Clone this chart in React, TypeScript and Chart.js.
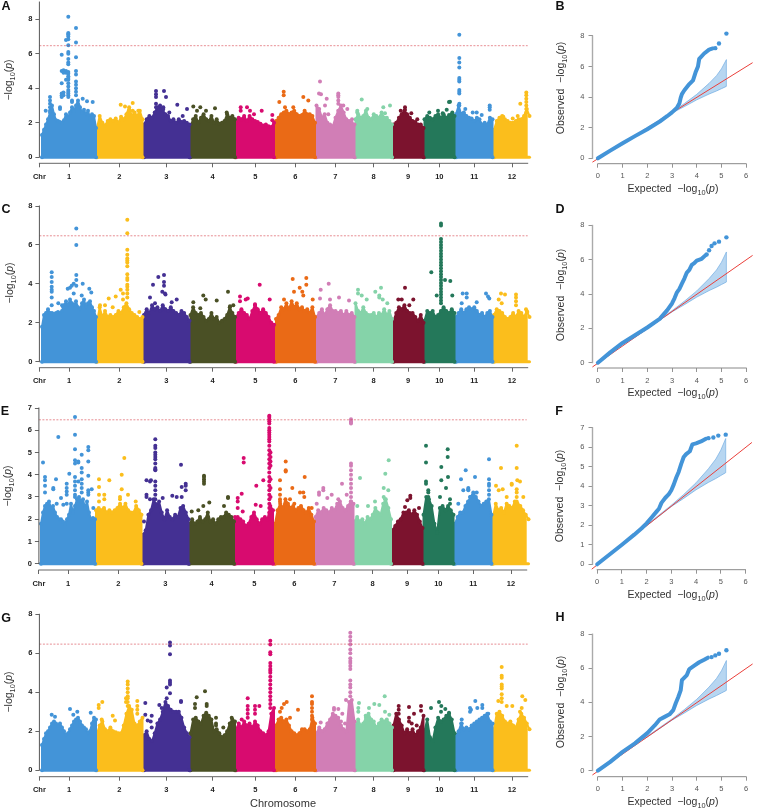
import React, { useEffect, useRef } from "react";
import { Chart, registerables } from "chart.js";

Chart.register(...registerables);

const FONT = '"Liberation Sans", Arial, sans-serif';
const chromLabels = ["1", "2", "3", "4", "5", "6", "7", "8", "9", "10", "11", "12"];
const chromColors = ["#4394d8", "#fbbe1c", "#443093", "#4a5025", "#d80b6f", "#ea6a16", "#d17eb6", "#85d3a9", "#7c132e", "#24785a", "#4394d8", "#fbbe1c"];
// genome position of each chromosome (start, end, axis tick)
const chromStart = [0, 55, 102, 148.5, 194, 234, 274.5, 313.5, 351.5, 382.5, 414, 452];
const chromEnd = [54, 100.5, 147.5, 193, 232, 273, 312.5, 350, 381.5, 412.5, 450.5, 487.5];
const chromTick = [27, 77.3, 124.3, 170.7, 213.3, 253.3, 293.3, 331.7, 366, 397.3, 432.3, 470];
const significance = 6.47;

// upper edge of the dense cloud of each chromosome, evenly spaced along it
const topsA = [
  [1.3, 1.6, 1.9, 2.2, 2.6, 3.0, 2.5, 2.15, 2.1, 2.05, 2.0, 2.15, 2.5, 2.3, 2.6, 2.9, 2.7, 3.0, 3.3, 2.9, 2.6, 2.75, 2.5, 2.7, 2.3, 2.5, 2.4, 1.7],
  [1.7, 2.4, 2.0, 1.85, 2.1, 2.2, 2.1, 2.25, 2.0, 2.35, 2.2, 2.5, 2.9, 2.4, 2.6, 2.4, 2.7, 2.2],
  [1.9, 2.2, 2.4, 2.3, 2.6, 2.9, 3.0, 2.7, 2.5, 2.4, 2.1, 2.2, 2.0, 2.2, 2.05, 2.1, 2.0, 1.9],
  [1.8, 2.2, 2.4, 2.0, 2.3, 2.5, 2.2, 2.1, 2.4, 2.0, 2.2, 1.95, 2.0, 2.1, 2.5, 2.3, 2.4, 2.2],
  [2.0, 2.3, 2.2, 2.4, 2.1, 2.4, 2.2, 2.1, 2.05, 1.95, 1.85, 1.9, 1.8, 1.75, 2.0],
  [2.1, 2.3, 2.5, 2.6, 2.7, 2.5, 2.6, 2.7, 2.5, 2.4, 2.45, 2.7, 2.5, 2.5, 2.4, 2.0],
  [3.0, 2.8, 2.3, 2.5, 2.0, 1.9, 1.8, 2.3, 2.7, 3.0, 2.6, 2.2, 2.1, 2.0, 1.9],
  [2.2, 2.5, 2.3, 2.4, 2.7, 2.3, 2.2, 2.5, 2.4, 2.3, 2.6, 2.3, 2.3, 2.1, 1.9],
  [1.9, 2.0, 2.3, 2.5, 2.7, 2.5, 2.3, 2.1, 2.05, 1.9, 1.9, 1.7],
  [2.2, 2.4, 2.3, 2.2, 2.4, 2.5, 2.3, 2.5, 2.3, 2.45, 2.5, 2.4],
  [2.5, 3.0, 2.5, 2.6, 2.4, 2.3, 2.25, 2.1, 2.3, 2.2, 1.9, 2.0, 1.9, 2.3, 2.2],
  [1.6, 2.1, 2.3, 2.4, 2.2, 2.1, 2.0, 2.0, 2.1, 2.2, 2.2, 2.4, 2.8, 2.4],
];
const topsC = [
  [1.8, 2.4, 2.5, 2.7, 2.5, 2.5, 2.45, 2.5, 2.55, 2.5, 2.6, 2.9, 3.1, 2.9, 3.2, 3.0, 2.9, 3.1, 2.8, 2.7, 3.0, 3.2, 2.8, 3.0, 3.1, 2.8, 2.6, 2.3],
  [2.0, 2.8, 2.3, 2.6, 2.3, 2.4, 2.3, 2.4, 2.6, 2.5, 2.8, 3.0, 2.7, 2.5, 2.4, 2.3, 2.2, 2.3],
  [2.4, 2.7, 2.5, 2.9, 2.7, 2.8, 2.6, 2.9, 2.7, 2.6, 2.8, 2.6, 2.5, 2.4, 2.6, 2.5, 2.3, 2.1],
  [2.4, 2.8, 2.5, 2.4, 2.5, 2.3, 2.1, 2.2, 2.5, 2.2, 2.3, 2.0, 2.1, 2.2, 2.4, 2.8, 2.5, 2.3],
  [2.3, 2.5, 2.7, 2.5, 2.4, 2.2, 2.6, 2.9, 2.7, 2.5, 2.7, 2.5, 2.3, 2.0, 1.9],
  [2.2, 2.4, 2.8, 2.7, 3.0, 2.7, 3.1, 2.8, 3.0, 2.7, 2.8, 2.6, 2.7, 2.5, 2.8, 2.3],
  [2.3, 2.5, 2.7, 2.4, 2.7, 2.9, 2.6, 2.6, 2.5, 2.6, 2.4, 2.6, 2.4, 2.5, 2.3],
  [3.0, 2.6, 2.5, 2.8, 2.5, 2.4, 2.4, 2.5, 2.3, 2.5, 2.4, 2.7, 2.4, 2.6, 2.2],
  [2.1, 2.5, 2.8, 2.7, 2.9, 2.6, 2.5, 2.5, 2.3, 2.1, 2.4, 2.0],
  [2.1, 2.6, 2.5, 2.6, 2.3, 2.4, 2.6, 2.8, 2.6, 2.5, 2.7, 2.5],
  [2.3, 2.5, 2.7, 2.5, 2.7, 2.8, 2.7, 2.8, 2.6, 2.4, 2.5, 2.3, 2.5, 2.6, 2.3],
  [2.4, 2.7, 2.6, 2.5, 2.3, 2.2, 2.3, 2.5, 2.3, 2.6, 2.5, 2.3, 2.6, 2.3],
];
const topsE = [
  [1.8, 2.3, 2.6, 2.7, 2.8, 2.5, 2.6, 2.3, 2.1, 2.0, 2.0, 1.9, 1.8, 2.0, 2.2, 2.7, 2.3, 2.6, 2.9, 3.0, 2.8, 2.9, 2.5, 2.8, 2.3, 2.0, 2.05, 2.0],
  [2.4, 2.5, 2.4, 2.5, 2.3, 2.4, 2.3, 2.4, 2.5, 2.7, 2.5, 2.7, 2.4, 2.3, 2.3, 2.6, 2.4, 2.2],
  [1.3, 1.5, 2.2, 2.4, 2.9, 2.6, 2.8, 2.3, 2.0, 2.4, 2.1, 2.0, 2.2, 2.1, 2.5, 2.6, 2.3, 2.0],
  [1.8, 2.0, 1.8, 1.9, 2.1, 1.9, 2.0, 2.3, 1.9, 2.0, 1.8, 2.0, 2.1, 2.1, 2.3, 2.2, 2.1, 1.9],
  [2.1, 2.1, 2.0, 1.9, 1.7, 1.8, 2.1, 2.3, 2.0, 1.8, 2.0, 2.1, 2.0, 2.6, 2.4],
  [1.8, 2.4, 2.7, 2.5, 2.9, 2.7, 2.5, 2.6, 2.4, 2.5, 2.6, 2.4, 2.3, 2.5, 2.2, 1.9],
  [2.1, 2.4, 2.3, 2.5, 2.4, 2.3, 2.5, 2.4, 2.7, 2.8, 2.5, 2.4, 2.6, 2.8, 2.7],
  [1.9, 2.1, 1.9, 2.0, 1.8, 2.1, 2.0, 2.2, 2.5, 2.3, 2.2, 2.7, 2.9, 2.5, 2.0],
  [1.5, 1.7, 1.9, 2.0, 2.3, 2.3, 2.4, 2.2, 2.4, 2.2, 1.9, 1.6],
  [2.2, 3.0, 2.9, 2.6, 1.8, 1.4, 2.5, 2.6, 2.4, 2.6, 2.4, 2.2],
  [1.8, 2.1, 2.3, 2.3, 2.6, 2.8, 3.0, 3.2, 3.0, 2.8, 2.6, 2.7, 2.8, 2.9, 2.2],
  [2.1, 2.7, 2.4, 2.5, 2.3, 2.7, 2.6, 2.5, 2.8, 2.7, 2.6, 2.4, 2.2, 2.0],
];
const topsG = [
  [1.3, 1.6, 1.9, 2.0, 2.2, 2.4, 2.5, 2.4, 2.3, 2.4, 2.2, 2.0, 1.8, 1.9, 2.1, 2.3, 2.5, 2.6, 2.7, 2.5, 2.3, 2.2, 2.1, 1.9, 2.0, 2.4, 2.7, 2.6],
  [1.9, 2.3, 2.5, 2.1, 2.0, 2.2, 2.0, 1.95, 1.9, 1.9, 2.3, 2.9, 3.3, 3.1, 2.4, 2.3, 2.5, 2.7],
  [1.8, 2.0, 1.6, 1.5, 1.9, 2.4, 2.6, 3.0, 3.5, 3.3, 3.1, 3.0, 3.0, 3.0, 2.7, 2.2, 1.9, 1.7],
  [1.9, 2.6, 2.7, 2.5, 2.4, 2.8, 2.95, 2.8, 2.6, 2.0, 2.1, 1.9, 1.7, 1.8, 2.0, 2.4, 2.6, 2.5],
  [2.1, 2.4, 2.2, 2.5, 2.3, 2.4, 2.2, 2.5, 2.3, 2.0, 1.9, 1.8, 2.0, 2.9, 3.2],
  [2.3, 2.6, 2.7, 2.5, 2.6, 2.3, 2.0, 1.9, 1.8, 1.9, 2.1, 2.1, 2.0, 2.1, 2.7, 2.4],
  [1.9, 2.2, 2.0, 2.1, 2.4, 2.6, 2.9, 2.8, 2.7, 2.3, 2.1, 2.0, 3.5, 3.6, 2.5],
  [2.3, 2.6, 2.3, 2.4, 2.7, 2.9, 2.6, 2.5, 2.2, 2.4, 2.6, 2.5, 2.6, 2.4, 2.2],
  [2.3, 2.9, 2.6, 2.3, 1.9, 2.1, 1.9, 2.1, 1.8, 2.0, 2.2, 2.8],
  [2.0, 2.6, 1.7, 1.5, 2.2, 2.7, 2.5, 2.6, 2.8, 2.9, 2.6, 1.9],
  [1.8, 2.0, 2.4, 2.1, 2.2, 2.1, 2.3, 2.4, 2.5, 2.6, 2.7, 2.8, 2.9, 2.5, 2.4],
  [2.1, 2.9, 3.0, 2.8, 2.5, 2.4, 2.5, 2.3, 2.2, 2.6, 2.9, 2.7, 2.4, 2.1],
];

// isolated markers: [genome position, value, value, ...]
const peaksA = [
  [26.3, 8.15, 7.2, 7.15, 7.1, 7.0, 6.85, 6.5, 6.1, 6.0, 5.7, 5.5, 5.4, 4.95, 4.85, 4.7, 4.6, 4.5, 4.3, 4.1, 3.9, 3.8, 3.7, 3.6, 3.5],
  [24, 6.8, 5.0, 4.9, 4.5], [19.7, 5.95, 5.0, 4.3, 3.7, 3.6, 3.5], [21.5, 5.05, 4.9, 3.75, 3.6], [34, 7.5, 6.65, 5.8, 5.0, 4.8, 4.4, 4.2, 4.0, 3.8, 3.6],
  [8, 3.5, 3.3, 3.1, 2.9, 2.7], [3.7, 2.7], [40.7, 3.4], [45, 3.25], [50.7, 3.2], [18, 2.8, 2.9], [30, 3.3, 3.2],
  [78.7, 3.05], [83, 2.95], [87.3, 2.75], [90.7, 3.15, 2.7], [96.3, 2.7],
  [114, 3.85, 3.65, 3.5, 3.1, 2.9], [122, 3.85], [124, 3.5], [121.3, 2.9, 2.8], [127.3, 2.6], [135.3, 3.05], [140.7, 2.4], [145, 2.8],
  [151.3, 2.95], [158.3, 2.9], [155, 2.7], [164, 2.7], [173, 2.85], [184.7, 2.6],
  [198.7, 2.9, 2.7], [205, 2.9], [208, 2.7], [219.7, 2.7], [212, 2.5], [230.3, 2.45, 2.15],
  [241.7, 3.8, 3.6], [237.3, 3.2], [261.3, 3.5], [266.3, 3.3], [243, 2.9], [251.3, 2.9],
  [278, 4.4], [277, 3.7], [279, 3.65], [284.7, 3.4], [296.3, 3.7, 3.6, 3.5, 3.3, 3.1], [283, 3.0], [301.3, 3.0], [305.3, 2.8], [310, 2.2], [286.3, 2.5], [302, 2.3],
  [319.7, 3.35], [315.3, 2.6, 2.7], [325.3, 2.8], [341.3, 2.9], [348, 3.0], [343, 2.55],
  [363, 2.9, 2.75], [358.7, 2.7], [369.3, 2.55], [375.3, 2.2],
  [387.3, 2.6], [396, 2.7], [400.7, 2.55], [404.7, 2.75], [407, 3.2], [408, 3.22], [410.3, 2.6],
  [417.3, 7.1, 5.75, 5.5, 5.2, 4.6, 4.5, 4.4, 3.9, 3.8, 3.7, 3.1, 3.0], [423.3, 2.8], [430.7, 2.6], [434.7, 2.6], [439.7, 2.45], [447.7, 3.0, 2.9, 2.75],
  [484.3, 3.75, 3.6, 3.4, 3.2, 3.0, 2.8, 2.6], [478.3, 3.1], [475.7, 2.4], [461.3, 2.35], [470.7, 2.25],
];
const peaksC = [
  [34.3, 6.85, 6.0, 4.45, 4.2, 3.9], [9.7, 4.6, 4.35, 4.1, 3.85, 3.7, 3.6, 3.3, 2.9], [16.3, 3.0], [20, 2.9], [21.3, 2.8], [25.7, 3.75], [28, 3.8], [29.7, 3.9], [31.7, 4.0, 3.5], [40.7, 4.0], [47.3, 3.75], [49.3, 3.55], [39.7, 3.4],
  [85.3, 7.3, 6.6, 5.75, 5.5, 5.3, 5.2, 5.1, 4.9, 4.5, 4.3, 4.2, 3.95, 3.85, 3.7, 3.5, 3.3], [66.7, 3.25], [73.7, 3.35], [78.7, 3.7], [58, 2.9], [63, 2.9], [70.7, 2.8], [97.3, 2.55], [81, 3.5, 3.2],
  [116.3, 4.35], [122, 4.45, 4.1, 3.9], [111, 3.95], [108, 3.3], [120.3, 3.6], [123, 3.5], [123.5, 3.45], [134.7, 3.2], [129.7, 3.05], [113, 3.0],
  [151.3, 3.05], [161.3, 3.4], [163.7, 3.2], [174.7, 3.15], [186, 3.6], [191.3, 2.9], [188, 2.85], [158.3, 2.75],
  [198, 3.35, 3.1], [203.7, 3.2], [205.7, 3.25], [217.7, 3.95], [227.7, 3.2], [213, 2.95],
  [250.7, 4.25], [264.3, 4.3, 3.95], [257.7, 3.8], [252, 3.6], [260.3, 3.6], [261.3, 3.4], [242, 3.2], [270.7, 3.2],
  [286.7, 4.0], [278.7, 3.7], [297, 3.3], [278, 3.25], [288, 3.2], [307, 3.15],
  [339, 3.8], [333.3, 3.6], [316, 3.7, 3.5], [319.7, 3.4], [324.7, 3.2], [337.3, 3.4, 3.3], [340.7, 3.2], [345.3, 3.0],
  [363, 3.8], [356.3, 3.2], [359.7, 3.2], [371.3, 3.2], [367.3, 2.9],
  [399, 7.1, 7.0, 6.3, 6.15, 6.0, 5.85, 5.7, 5.55, 5.4, 5.25, 5.1, 4.95, 4.8, 4.65, 4.5, 4.35, 4.2, 4.05, 3.9, 3.75, 3.6, 3.45, 3.3, 3.15, 3.0],
  [389.3, 4.6], [403, 4.2], [408.3, 4.15], [410.3, 3.4], [394.7, 3.4],
  [420.7, 3.5], [424.7, 3.5, 3.3], [444, 3.5], [446, 3.35], [447.3, 3.25], [419.7, 3.0], [434.7, 3.05],
  [459, 3.5], [463, 3.45], [474, 3.45, 3.3, 3.1, 2.9], [456.7, 3.2], [459.7, 3.0], [484, 2.7], [485.3, 2.55],
];
const peaksE = [
  [34, 6.6, 5.8, 5.15, 4.65, 4.5, 3.9, 3.7, 3.5, 3.3, 3.1, 3.0], [17.3, 5.7], [2, 4.55], [4, 3.9, 3.75, 3.5, 3.2], [15, 3.8], [12.3, 3.4, 3.35], [47.3, 5.25, 5.1, 4.6, 3.95, 3.3, 3.2, 3.1],
  [40.7, 4.9, 4.3, 4.1, 3.8, 3.6, 3.4, 3.2], [28.3, 4.05], [25.7, 3.6, 3.4, 3.25, 3.1, 2.7], [20, 2.95], [22.3, 2.65], [50.7, 3.35], [52.3, 2.5], [15.7, 2.7], [37.3, 4.6, 4.55, 3.7],
  [83.3, 4.75], [80.7, 4.0, 3.35], [58, 3.8, 3.45, 3.1, 2.8], [68.3, 3.75], [63.3, 3.1, 2.9], [87, 3.1], [79, 3.0, 2.9], [94.7, 2.8],
  [114.3, 5.6, 5.3, 5.2, 5.0, 4.9, 4.8, 4.7, 4.5, 4.3, 4.2, 4.25, 3.7, 3.5, 3.3, 3.1, 2.9, 2.7], [140, 4.45], [105.5, 3.75, 3.1, 3.0], [109, 3.7, 2.9], [110, 3.75], [144.7, 3.6, 3.5, 3.3], [140.7, 3.45, 3.0], [131.3, 3.05], [121.7, 2.95], [103, 1.9], [135.7, 3.0],
  [163, 3.95, 3.9, 3.8, 3.7, 3.6], [168.3, 2.75], [187, 3.0, 2.95], [157.3, 2.4], [150.7, 2.35], [162.3, 2.6], [183, 2.6],
  [202.7, 4.75, 4.55], [200.7, 3.15], [196.7, 2.95, 2.8, 2.5], [201.7, 2.35], [215.3, 3.5], [214.7, 2.65], [222.3, 3.75], [219.7, 2.6],
  [228.3, 6.65, 6.6, 6.5, 6.4, 6.3, 6.1, 6.0, 5.9, 5.8, 5.7, 5.6, 5.5, 5.3, 5.1, 4.9, 4.7, 4.5, 4.3, 4.1, 3.9, 3.7, 3.5, 3.3, 3.1, 2.9, 2.7, 2.5, 2.3],
  [229.5, 5.0, 4.8, 4.6, 4.4, 3.8, 3.4, 3.0],
  [244.7, 4.6, 4.2, 4.15], [239, 3.75, 3.35, 3.1, 2.9, 2.8], [251.3, 3.4], [263.7, 3.9], [259, 3.2], [262.3, 3.2], [263.3, 3.0], [270.7, 2.5], [249, 2.9], [253.3, 2.7],
  [310, 6.5, 6.4, 6.35, 6.3, 4.5, 4.4, 4.2, 4.0, 3.8, 3.6, 3.4, 3.2, 3.0, 2.8], [301, 3.6], [282.3, 3.4, 3.3], [278, 3.2, 3.1], [286.3, 2.95], [290.7, 3.1], [297.3, 2.9], [275.7, 2.7], [305.7, 3.1],
  [347.7, 4.65], [344.3, 4.05], [319, 3.85], [342.7, 3.4, 3.0], [347.3, 3.3], [344, 2.9], [316.3, 2.6], [327, 2.6], [334, 2.8],
  [369.3, 3.05, 2.95], [366.3, 2.85], [364, 2.55], [378, 2.5],
  [385, 5.3, 4.55, 3.7, 3.6], [406.7, 5.15, 4.8], [400.3, 4.35, 3.75], [407, 3.9], [405, 3.4], [387.3, 3.3, 3.2, 3.0, 2.8], [399, 3.0], [409, 2.9, 2.7],
  [424.7, 4.2], [420, 3.8], [434, 3.9], [448, 4.7, 3.8, 3.6, 3.5, 3.3, 3.1], [427.3, 3.4, 3.35, 3.3], [422.3, 3.3], [417.3, 2.7], [435.7, 3.2], [429, 3.0],
  [475.7, 5.3, 4.3, 3.35, 3.2, 3.0, 2.8], [460, 4.3], [455, 3.5], [457.7, 3.3], [461.7, 3.35], [470.7, 3.6, 3.55], [476.3, 3.75], [479, 3.7], [465.7, 3.0], [482.3, 3.0],
];
const peaksG = [
  [28, 3.15], [35.3, 3.0], [9.7, 2.85], [13, 2.75], [48.7, 2.95], [31.3, 2.85], [38, 2.3],
  [85.7, 4.55, 4.4, 4.2, 4.0, 3.8, 3.7, 3.5, 3.3], [84, 3.7, 3.5], [60.3, 3.5], [56.7, 3.35, 3.2], [70.7, 2.8], [95.3, 3.55, 3.3, 3.1, 2.9], [59.7, 2.6], [73, 2.55],
  [128, 6.55, 6.4, 5.95, 4.6, 4.5, 4.4, 3.95], [124.7, 4.25, 3.7], [103.3, 3.45, 2.85], [109.7, 2.8], [105.7, 2.55], [108.7, 2.5], [109.7, 2.2], [117.3, 3.35], [119.7, 3.2], [139, 3.55, 3.5],
  [163, 4.05], [154.7, 3.75], [153, 3.4, 3.2], [164.7, 3.4, 3.3], [174, 2.7, 2.4, 2.3], [189.7, 2.7], [181.3, 2.2],
  [228.3, 6.65, 6.45, 6.05, 5.95, 5.5, 5.35, 5.2, 5.1, 5.0, 4.8, 4.6, 4.4, 4.2, 4.0, 3.8, 3.6, 3.4, 3.2], [205.7, 3.7, 3.3, 3.1, 2.9, 2.7], [213, 3.3, 3.1, 2.9], [217.3, 3.3], [199.7, 2.6],
  [270, 3.8, 3.5, 3.4, 3.2, 3.0, 2.8, 2.6], [244.7, 3.5], [242, 3.4], [239.7, 3.2], [238, 3.0], [256, 3.1], [248, 2.7],
  [308.3, 7.05, 6.85, 6.65, 6.45, 6.2, 6.0, 5.75, 5.6, 5.5, 5.35, 5.2, 4.6, 4.4, 4.25, 4.0, 3.8], [304, 3.6], [278.7, 2.45], [292, 3.2, 3.1], [296.3, 3.15], [300.3, 2.9], [303, 2.4], [299, 2.5],
  [342.7, 3.8], [317, 3.45], [332.3, 3.4], [337.3, 3.35], [327, 3.2], [316.3, 3.2, 3.0], [343, 3.0], [347.3, 2.85], [323.7, 2.8],
  [356.7, 3.3, 3.1, 2.9], [367, 3.25, 2.7, 2.5], [379, 3.3, 3.05], [372, 2.9], [369.7, 2.4], [374.7, 2.3],
  [397, 3.5], [389, 3.2], [399.3, 3.3], [403.3, 3.15], [399, 3.0], [407, 2.95],
  [433.3, 3.55], [428, 3.2, 3.0], [440.3, 3.35, 3.2], [435.3, 3.2], [446.3, 2.9], [419.7, 2.6, 2.4], [429, 3.1],
  [459.7, 5.3, 4.85, 4.75, 4.4, 4.3, 4.2, 3.9, 3.7, 3.5], [456.3, 3.55], [480.3, 3.8], [483.3, 3.6], [464.7, 3.3], [470.3, 3.3], [478, 3.0], [479.7, 3.2],
];

// QQ plots
const bandExpected = [1.8, 3, 3.5, 4, 4.5, 4.8, 5, 5.2];
const bandUpper = [1.82, 3.03, 3.58, 4.18, 4.9, 5.4, 5.85, 6.45];
const bandLower = [1.78, 2.96, 3.38, 3.82, 4.2, 4.4, 4.55, 4.7];
const qqLine = [[-0.22, -0.25], [6.26, 6.25]];
const qqB = [[0, 0], [0.5, 0.5], [1, 0.98], [1.5, 1.45], [2, 1.9], [2.5, 2.4], [2.8, 2.75], [3, 3.0], [3.2, 3.3], [3.3, 3.6], [3.35, 3.95], [3.4, 4.2], [3.5, 4.45], [3.7, 4.85], [3.85, 5.1], [3.95, 5.6], [4.05, 6.0], [4.1, 6.5], [4.3, 6.85], [4.5, 7.1], [4.65, 7.18]];
const tailB = [[4.75, 7.2], [4.9, 7.5], [5.2, 8.15]];
const qqD = [[0, 0], [0.5, 0.6], [1, 1.15], [1.5, 1.6], [2, 2.05], [2.5, 2.55], [2.8, 3.05], [3, 3.45], [3.1, 3.75], [3.2, 4.1], [3.3, 4.3], [3.4, 4.6], [3.5, 4.9], [3.6, 5.25], [3.7, 5.4], [3.8, 5.7], [3.9, 5.8], [4.0, 5.95], [4.2, 6.05], [4.35, 6.25]];
const tailD = [[4.4, 6.3], [4.5, 6.55], [4.6, 6.8], [4.72, 6.95], [4.9, 7.05], [5.2, 7.3]];
const qqF = [[0, 0], [0.5, 0.5], [1, 1], [1.5, 1.52], [1.8, 1.85], [2, 2.1], [2.2, 2.4], [2.4, 2.7], [2.5, 2.85], [2.6, 3.15], [2.75, 3.4], [2.9, 3.6], [3, 3.8], [3.1, 4.1], [3.2, 4.45], [3.3, 4.75], [3.4, 5.15], [3.5, 5.5], [3.6, 5.65], [3.75, 5.8], [3.85, 6.15], [4.0, 6.2], [4.2, 6.3], [4.4, 6.44]];
const tailF = [[4.5, 6.47], [4.7, 6.5], [4.9, 6.6], [5.2, 6.65]];
const qqH = [[0, 0], [0.5, 0.52], [1, 1.1], [1.5, 1.6], [2, 2.2], [2.3, 2.65], [2.5, 3.0], [2.7, 3.15], [2.9, 3.3], [3.05, 3.55], [3.15, 3.95], [3.25, 4.3], [3.35, 4.7], [3.4, 5.3], [3.5, 5.45], [3.6, 5.6], [3.7, 5.95], [3.9, 6.15], [4.1, 6.35], [4.3, 6.5], [4.45, 6.62]];
const tailH = [[4.6, 6.65], [4.75, 6.75], [4.9, 6.85], [5.2, 7.05]];

const ticksEven = [0, 2, 4, 6, 8];
const ticksAll = [0, 1, 2, 3, 4, 5, 6, 7];
const qqXTicks = [0, 1, 2, 3, 4, 5, 6];

const chromBoundary = [54.5, 101.2, 148, 193.5, 233, 273.7, 313, 350.7, 382, 413.2, 451, 999];
const xy = (p: number[]) => ({ x: p[0], y: p[1] });

function fixedScale(axis: "x" | "y", size: number) {
  return (s: any) => {
    if (axis === "y") s.width = size;
    else s.height = size;
    s.paddingTop = s.paddingBottom = s.paddingLeft = s.paddingRight = 0;
  };
}

function axisLinePlugin(cfg: { yTop: number; xFrom: number; xTo: number; yColor: string; xColor: string; yWidth: number; xWidth: number }) {
  return {
    id: "rAxes",
    afterDraw(chart: any) {
      const { ctx, scales } = chart;
      const { x, y } = scales;
      ctx.save();
      ctx.lineCap = "butt";
      ctx.strokeStyle = cfg.yColor;
      ctx.lineWidth = cfg.yWidth;
      ctx.beginPath();
      ctx.moveTo(chart.chartArea.left, y.getPixelForValue(0) + 0.5);
      ctx.lineTo(chart.chartArea.left, y.getPixelForValue(cfg.yTop) - 0.5);
      ctx.stroke();
      ctx.strokeStyle = cfg.xColor;
      ctx.lineWidth = cfg.xWidth;
      ctx.beginPath();
      ctx.moveTo(x.getPixelForValue(cfg.xFrom) - 0.5, chart.chartArea.bottom);
      ctx.lineTo(x.getPixelForValue(cfg.xTo) + 0.5, chart.chartArea.bottom);
      ctx.stroke();
      ctx.restore();
    },
  };
}

function tickScale(values: number[], labels: string[], min: number, max: number, position: string, afterFit: any, font: any, color: string, tickColor: string, padding: number) {
  return {
    type: "linear",
    position,
    min,
    max,
    border: { display: false },
    grid: { display: true, drawOnChartArea: false, drawTicks: true, tickLength: 4, color: tickColor, lineWidth: 0.9 },
    ticks: { autoSkip: false, maxRotation: 0, minRotation: 0, padding, font, color, includeBounds: false, callback: (_v: number, i: number) => labels[i] },
    afterBuildTicks: (s: any) => { s.ticks = values.map((value) => ({ value })); },
    afterFit,
  };
}

type ManProps = { tops: number[][]; peaks: number[][]; origin: number; left: number; right: number; y0: number; ppu: number; yTop: number; axisY: number; yTicks: number[] };

function Manhattan({ tops, peaks, origin, left, right, y0, ppu, yTop, axisY, yTicks }: ManProps) {
  const ref = useRef<HTMLCanvasElement>(null);
  const topPx = y0 - yTop * ppu;
  const canvasTop = Math.floor(topPx) - 6;
  const canvasH = Math.ceil(axisY) + 24 - canvasTop;
  const canvasW = 540;
  useEffect(() => {
    const xMin = left - origin;
    const xMax = right - origin;
    const datasets: any[] = [];
    datasets.push({
      data: [{ x: xMin, y: significance }, { x: xMax, y: significance }],
      borderColor: "rgba(214,62,72,0.85)", borderWidth: 0.7, borderDash: [2, 1.5], pointRadius: 0, order: 0, clip: false,
    });
    chromLabels.forEach((_, c) => {
      const vals = tops[c];
      const len = chromEnd[c] - chromStart[c];
      const outline = vals.map((v, i) => ({ x: chromStart[c] + (i / (vals.length - 1)) * len, y: v }));
      const col = chromColors[c];
      datasets.push({
        data: [{ x: chromStart[c], y: 0 }, ...outline, { x: chromEnd[c], y: 0 }],
        borderColor: col, backgroundColor: col, pointBackgroundColor: col, borderWidth: 2, borderJoinStyle: "round", fill: "origin", pointRadius: 2, pointBorderWidth: 0, order: 2, clip: false,
      });
      datasets.push({
        data: [{ x: chromStart[c], y: 0 }, { x: chromEnd[c], y: 0 }],
        borderColor: col, borderWidth: 3, borderCapStyle: "round", pointRadius: 0, order: 2, clip: false,
      });
      const pts: { x: number; y: number }[] = [];
      peaks.forEach((col2) => {
        const lo = c === 0 ? -99 : chromBoundary[c - 1];
        if (col2[0] > lo && col2[0] <= chromBoundary[c]) col2.slice(1).forEach((y) => pts.push({ x: col2[0], y }));
      });
      datasets.push({ data: pts, showLine: false, pointRadius: 2, pointBorderWidth: 0, pointBackgroundColor: col, order: 1, clip: false });
    });
    const font = { family: FONT, size: 7.5, weight: "bold" as const };
    const chart = new Chart(ref.current!, {
      type: "line",
      data: { datasets },
      plugins: [axisLinePlugin({ yTop, xFrom: xMin, xTo: xMax, yColor: "#555", xColor: "#666", yWidth: 1, xWidth: 1 })],
      options: {
        animation: false, responsive: false, events: [],
        layout: { padding: { top: topPx - canvasTop, right: canvasW - right, left: 0, bottom: 0 } },
        plugins: { legend: { display: false }, tooltip: { enabled: false } },
        scales: {
          x: tickScale([xMin, ...chromTick], ["Chr", ...chromLabels], xMin, xMax, "bottom", fixedScale("x", canvasTop + canvasH - axisY), font, "#222", "#555", 5),
          y: tickScale(yTicks, yTicks.map(String), -(axisY - y0) / ppu, yTop, "left", fixedScale("y", left), font, "#222", "#555", 3),
        },
      } as any,
    } as any);
    return () => chart.destroy();
  }, []);
  return <canvas ref={ref} width={canvasW} height={canvasH} style={{ position: "absolute", left: 0, top: canvasTop, display: "block" }} />;
}

type QQProps = { curve: number[][]; tail: number[][]; y0: number; ppu: number; yTop: number; axisY: number; yTicks: number[]; x0: number };

function QQ({ curve, tail, y0, ppu, yTop, axisY, yTicks, x0 }: QQProps) {
  const ref = useRef<HTMLCanvasElement>(null);
  const ppx = 25.33;
  const leftPx = 592.5;
  const canvasLeft = 566;
  const canvasW = 758 - canvasLeft;
  const topPx = y0 - yTop * ppu;
  const canvasTop = Math.floor(topPx) - 6;
  const canvasH = Math.ceil(axisY) + 20 - canvasTop;
  useEffect(() => {
    const blue = "#4394d8";
    const datasets: any[] = [
      { data: curve.map(xy), borderColor: blue, borderWidth: 4, borderCapStyle: "round", borderJoinStyle: "round", pointRadius: 0, order: 0, clip: false },
      { data: tail.map(xy), showLine: false, pointRadius: 2.2, pointBorderWidth: 0, pointBackgroundColor: blue, order: 0, clip: false },
      { data: qqLine.map(xy), borderColor: "#ea3f3a", borderWidth: 1, pointRadius: 0, order: 1, clip: false },
      { data: bandExpected.map((x, i) => ({ x, y: bandUpper[i] })), borderColor: "#74aee2", borderWidth: 0.7, pointRadius: 0, backgroundColor: "rgba(84,157,222,0.42)", fill: { target: 4 }, order: 2 },
      { data: bandExpected.map((x, i) => ({ x, y: bandLower[i] })), borderColor: "#74aee2", borderWidth: 0.7, pointRadius: 0, order: 2 },
      { data: [{ x: 5.2, y: bandLower[7] }, { x: 5.2, y: bandUpper[7] }], borderColor: "#74aee2", borderWidth: 0.7, pointRadius: 0, order: 2 },
    ];
    const font = { family: FONT, size: 7.5 };
    const chart = new Chart(ref.current!, {
      type: "line",
      data: { datasets },
      plugins: [axisLinePlugin({ yTop, xFrom: 0, xTo: 6, yColor: "#aaa", xColor: "#888", yWidth: 1.4, xWidth: 1 })],
      options: {
        animation: false, responsive: false, events: [],
        layout: { padding: { top: topPx - canvasTop, right: 0, left: 0, bottom: 0 } },
        plugins: { legend: { display: false }, tooltip: { enabled: false } },
        scales: {
          x: tickScale(qqXTicks, qqXTicks.map(String), (leftPx - x0) / ppx, (758 - x0) / ppx, "bottom", fixedScale("x", canvasTop + canvasH - axisY), font, "#555", "#888", 4),
          y: tickScale(yTicks, yTicks.map(String), -(axisY - y0) / ppu, yTop, "left", fixedScale("y", leftPx - canvasLeft), font, "#555", "#888", 4),
        },
      } as any,
    } as any);
    return () => chart.destroy();
  }, []);
  return <canvas ref={ref} width={canvasW} height={canvasH} style={{ position: "absolute", left: canvasLeft, top: canvasTop, display: "block" }} />;
}

const logP = (
  <>
    −log<sub style={{ fontSize: "70%", lineHeight: 0 }}>10</sub>(<i>p</i>)
  </>
);

function Label({ x, y, rotate, size = 10.5, color = "#333", bold, children }: any) {
  return (
    <div style={{ position: "absolute", left: x, top: y, transform: `translate(-50%,-50%)${rotate ? " rotate(-90deg)" : ""}`, fontFamily: FONT, fontSize: size, fontWeight: bold ? 700 : 400, color, whiteSpace: "pre", lineHeight: 1 }}>
      {children}
    </div>
  );
}

const letters: [string, number, number][] = [["A", 6, 6], ["B", 560, 6], ["C", 6, 209], ["D", 560, 209], ["E", 5, 411], ["F", 559, 411], ["G", 6, 618], ["H", 560, 617]];

export default function App() {
  return (
    <div style={{ position: "absolute", left: 0, top: 0, width: 758, height: 810, overflow: "hidden", background: "#fff" }}>
      <Manhattan tops={topsA} peaks={peaksA} origin={42} left={39.4} right={527.7} y0={157.3} ppu={17.25} yTop={9} axisY={163.3} yTicks={ticksEven} />
      <Manhattan tops={topsC} peaks={peaksC} origin={42} left={39.4} right={527.7} y0={361.7} ppu={19.46} yTop={8} axisY={367.7} yTicks={ticksEven} />
      <Manhattan tops={topsE} peaks={peaksE} origin={41} left={38.9} right={526.7} y0={563.7} ppu={22.24} yTop={7} axisY={570} yTicks={ticksAll} />
      <Manhattan tops={topsG} peaks={peaksG} origin={42} left={39.4} right={527.7} y0={770.3} ppu={19.5} yTop={8} axisY={776.7} yTicks={ticksEven} />
      <QQ curve={qqB} tail={tailB} y0={158.3} ppu={15.3} yTop={8} axisY={163.7} yTicks={ticksEven} x0={598} />
      <QQ curve={qqD} tail={tailD} y0={362.7} ppu={17.17} yTop={8} axisY={368} yTicks={ticksEven} x0={598} />
      <QQ curve={qqF} tail={tailF} y0={564.3} ppu={19.5} yTop={7} axisY={569.7} yTicks={ticksAll} x0={597.3} />
      <QQ curve={qqH} tail={tailH} y0={770.7} ppu={17.08} yTop={8} axisY={776.7} yTicks={ticksEven} x0={598} />
      {letters.map(([t, x, y]) => <Label key={t} x={x} y={y} size={12.5} color="#111" bold>{t}</Label>)}
      <Label x={8} y={80} rotate>{logP}</Label>
      <Label x={9} y={283} rotate>{logP}</Label>
      <Label x={7} y={486} rotate>{logP}</Label>
      <Label x={8} y={692} rotate>{logP}</Label>
      <Label x={560} y={88} rotate>Observed  {logP}</Label>
      <Label x={560} y={295} rotate>Observed  {logP}</Label>
      <Label x={559} y={496} rotate>Observed  {logP}</Label>
      <Label x={560} y={702} rotate>Observed  {logP}</Label>
      <Label x={673} y={188}>Expected  {logP}</Label>
      <Label x={673} y={392}>Expected  {logP}</Label>
      <Label x={673} y={594}>Expected  {logP}</Label>
      <Label x={673} y={801}>Expected  {logP}</Label>
      <Label x={283} y={803} size={11}>Chromosome</Label>
    </div>
  );
}
